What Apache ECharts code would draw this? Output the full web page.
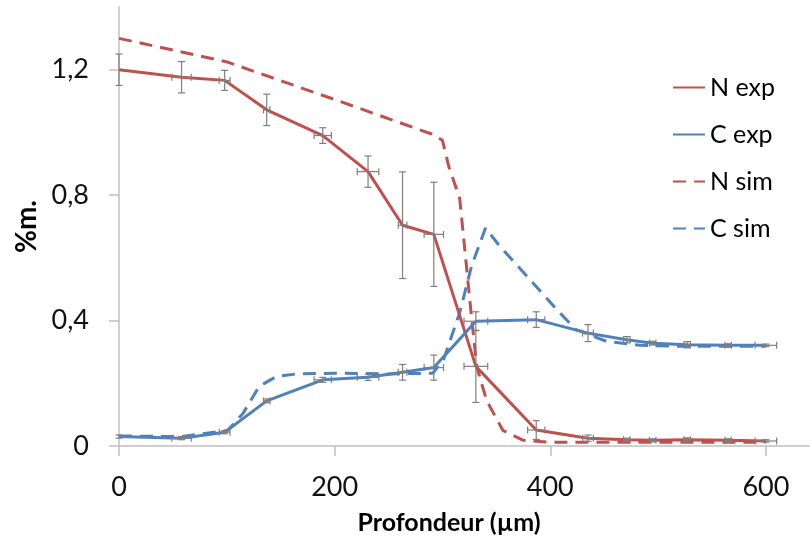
<!DOCTYPE html>
<html>
<head>
<meta charset="utf-8">
<script src="https://cdn.jsdelivr.net/npm/echarts@6/dist/echarts.min.js"></script>
<style>
  html, body { margin: 0; padding: 0; background: #fff; }
  #chart { width: 811px; height: 544px; }
</style>
</head>
<body>
<div id="chart"></div>
<script>
// profondeurs des mesures (µm)
const expX = [0, 58, 98, 137, 189, 231, 263, 292, 331, 387, 435, 471, 495, 527, 565, 600]
const expXErr = [0, 9, 5, 3, 8, 10, 4, 9, 11, 8, 5, 3, 3, 3, 3, 10]
// N exp
const nExpY = [1.2, 1.176, 1.166, 1.072, 0.99, 0.875, 0.704, 0.675, 0.254, 0.051, 0.025, 0.02, 0.018, 0.02, 0.018, 0.016]
const nExpYErr = [0.05, 0.05, 0.032, 0.05, 0.025, 0.05, 0.17, 0.166, 0.115, 0.03, 0.01, 0.005, 0.005, 0.006, 0.005, 0.004]
// C exp
const cExpY = [0.03, 0.025, 0.044, 0.144, 0.211, 0.219, 0.235, 0.25, 0.398, 0.403, 0.36, 0.339, 0.328, 0.323, 0.321, 0.321]
const cExpYErr = [0.005, 0.005, 0.005, 0.006, 0.008, 0.01, 0.025, 0.04, 0.03, 0.025, 0.027, 0.01, 0.006, 0.01, 0.005, 0.004]
// N sim
const nSimX = [0, 100, 200, 290, 300, 306, 316, 327, 332, 341, 356, 375, 400, 500, 600]
const nSimY = [1.30, 1.225, 1.105, 0.995, 0.975, 0.89, 0.79, 0.41, 0.25, 0.145, 0.05, 0.018, 0.012, 0.012, 0.012]
// C sim
const cSimX = [0, 57, 101, 115, 130, 146, 165, 200, 250, 291, 301, 316, 327, 340, 353, 384, 406, 424, 452, 483, 520, 600]
const cSimY = [0.032, 0.03, 0.05, 0.104, 0.19, 0.222, 0.23, 0.232, 0.23, 0.232, 0.275, 0.425, 0.574, 0.695, 0.638, 0.52, 0.435, 0.371, 0.334, 0.321, 0.318, 0.318]

const xTicks = [0, 200, 400, 600]
const yTicks = [0, 0.4, 0.8, 1.2]

const RED = '#c0504d'
const BLUE = '#4f81bd'
const FONT = 'Lato'

const pairs = (xs, ys) => xs.map((x, i) => [x, ys[i]])
const errData = (ys, yErr) => expX.map((x, i) => [x, ys[i], expXErr[i], yErr[i]])

// barres d'erreur (verticales + horizontales avec petits traits)
function renderErr(params, api) {
  const x = api.value(0), y = api.value(1), xe = api.value(2), ye = api.value(3)
  const style = { stroke: '#7f7f7f', lineWidth: 1.2 }
  const cap = 3.5
  const children = []
  if (ye > 0) {
    const top = api.coord([x, y + ye])
    const bot = api.coord([x, y - ye])
    children.push(
      { type: 'line', shape: { x1: top[0], y1: top[1], x2: bot[0], y2: bot[1] }, style },
      { type: 'line', shape: { x1: top[0] - cap, y1: top[1], x2: top[0] + cap, y2: top[1] }, style },
      { type: 'line', shape: { x1: bot[0] - cap, y1: bot[1], x2: bot[0] + cap, y2: bot[1] }, style }
    )
  }
  if (xe > 0) {
    const l = api.coord([x - xe, y])
    const r = api.coord([x + xe, y])
    children.push(
      { type: 'line', shape: { x1: l[0], y1: l[1], x2: r[0], y2: r[1] }, style },
      { type: 'line', shape: { x1: l[0], y1: l[1] - cap, x2: l[0], y2: l[1] + cap }, style },
      { type: 'line', shape: { x1: r[0], y1: r[1] - cap, x2: r[0], y2: r[1] + cap }, style }
    )
  }
  return { type: 'group', children }
}

const chart = echarts.init(document.getElementById('chart'))
const option = {
  animation: false,
  textStyle: { fontFamily: FONT },
  grid: { left: 119, right: 2, top: 7, bottom: 98 },
  legend: {
    orient: 'vertical',
    left: 672,
    top: 75,
    padding: 0,
    itemWidth: 32,
    itemHeight: 14,
    itemGap: 22,
    data: ['N exp', 'C exp', 'N sim', 'C sim'],
    itemStyle: { color: 'transparent', borderColor: 'transparent', borderWidth: 0 },
    textStyle: { fontFamily: FONT, fontSize: 25, color: '#000' }
  },
  xAxis: {
    type: 'value',
    min: 0,
    max: 640,
    name: 'Profondeur (µm)',
    nameLocation: 'middle',
    nameGap: 64,
    nameTextStyle: { fontFamily: FONT, fontSize: 25, fontWeight: 'bold', color: '#000', padding: [0, 30, 0, 0] },
    axisLine: { lineStyle: { color: '#c0c0c0', width: 1.5 } },
    axisTick: { show: true, length: 10, customValues: xTicks, lineStyle: { color: '#c0c0c0', width: 1.5 } },
    axisLabel: { customValues: xTicks, fontSize: 27, color: '#111', margin: 28 },
    splitLine: { show: false }
  },
  yAxis: {
    type: 'value',
    min: 0,
    max: 1.4,
    name: '%m.',
    nameLocation: 'middle',
    nameGap: 74,
    nameTextStyle: { fontFamily: FONT, fontSize: 28, fontWeight: 'bold', color: '#000' },
    axisLine: { show: true, lineStyle: { color: '#c0c0c0', width: 1.5 } },
    axisTick: { show: true, length: 10, customValues: yTicks, lineStyle: { color: '#c0c0c0', width: 1.5 } },
    axisLabel: {
      customValues: yTicks,
      fontSize: 27,
      color: '#111',
      margin: 30,
      formatter: v => String(v).replace('.', ',')
    },
    splitLine: { show: false }
  },
  series: [
    {
      name: 'N exp', type: 'line', symbol: 'none', z: 3,
      lineStyle: { color: RED, width: 3 }, itemStyle: { color: RED },
      data: pairs(expX, nExpY)
    },
    {
      name: 'C exp', type: 'line', symbol: 'none', z: 3,
      lineStyle: { color: BLUE, width: 3 }, itemStyle: { color: BLUE },
      data: pairs(expX, cExpY)
    },
    {
      name: 'N sim', type: 'line', symbol: 'none', z: 2,
      lineStyle: { color: RED, width: 3, type: [13, 8] }, itemStyle: { color: RED },
      data: pairs(nSimX, nSimY)
    },
    {
      name: 'C sim', type: 'line', symbol: 'none', z: 2,
      lineStyle: { color: BLUE, width: 3, type: [13, 8] }, itemStyle: { color: BLUE },
      data: pairs(cSimX, cSimY)
    },
    {
      type: 'custom', z: 4, silent: true,
      renderItem: renderErr,
      encode: { x: 0, y: 1 },
      data: errData(nExpY, nExpYErr)
    },
    {
      type: 'custom', z: 4, silent: true,
      renderItem: renderErr,
      encode: { x: 0, y: 1 },
      data: errData(cExpY, cExpYErr)
    }
  ]
}
chart.setOption(option)
</script>
</body>
</html>
